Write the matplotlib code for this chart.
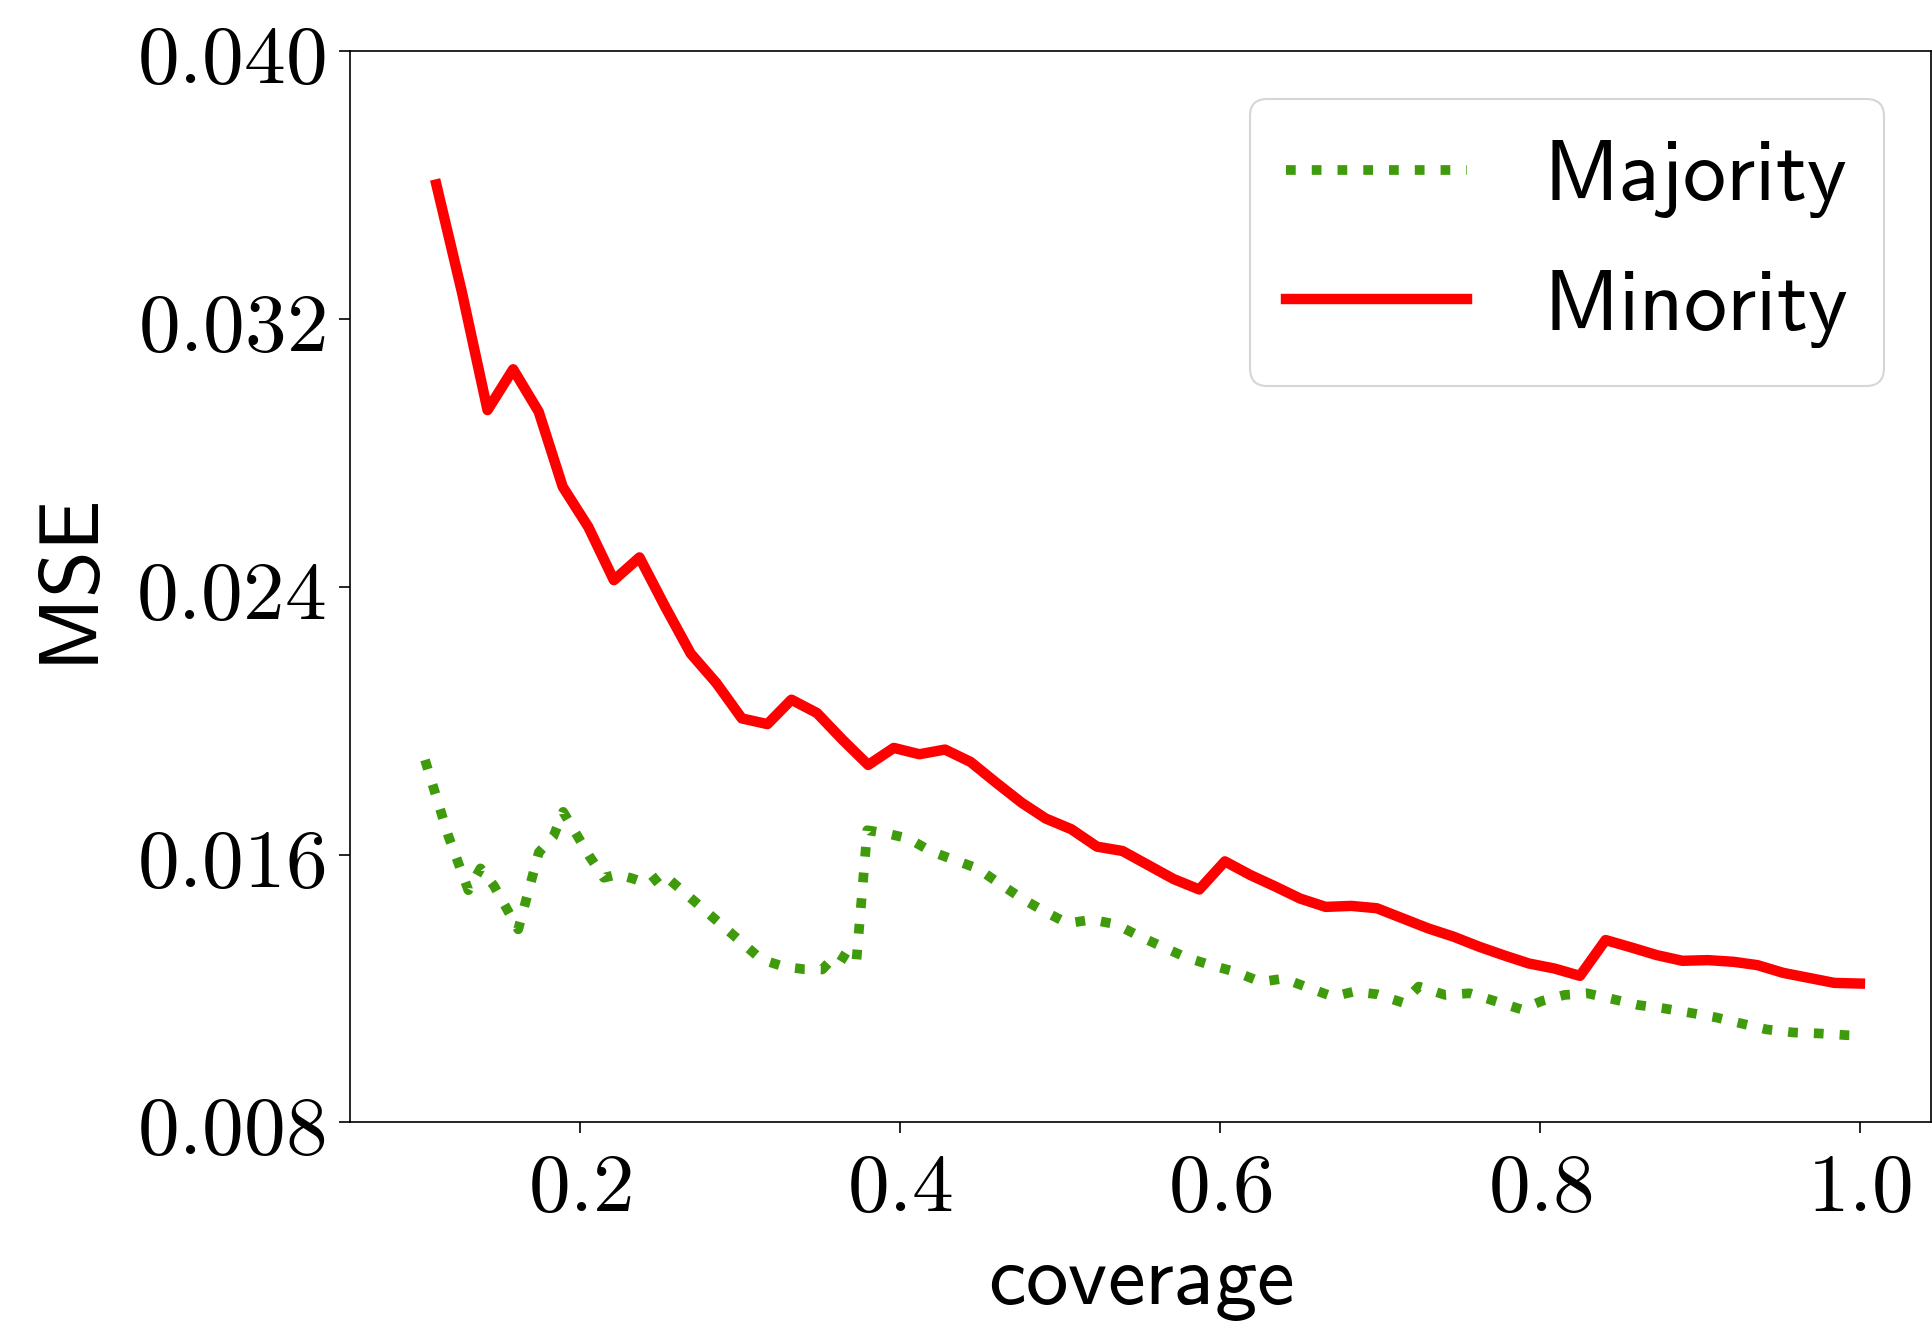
import matplotlib
matplotlib.use("Agg")
import matplotlib.pyplot as plt
from matplotlib.ticker import FuncFormatter

plt.rcParams['mathtext.fontset'] = 'cm'

# Minority group (regular coverage grid)
minority_cov = [0.110, 0.126, 0.142, 0.158, 0.174, 0.189, 0.205, 0.221, 0.237, 0.253,
                0.269, 0.285, 0.301, 0.317, 0.332, 0.348, 0.364, 0.380, 0.396, 0.412,
                0.428, 0.444, 0.460, 0.476, 0.491, 0.507, 0.523, 0.539, 0.555, 0.571,
                0.587, 0.603, 0.619, 0.634, 0.650, 0.666, 0.682, 0.698, 0.714, 0.730,
                0.746, 0.762, 0.777, 0.793, 0.809, 0.825, 0.841, 0.857, 0.873, 0.889,
                0.905, 0.921, 0.936, 0.952, 0.968, 0.984, 1.000]
minority_mse = [0.03602, 0.03280, 0.02928, 0.03050, 0.02923, 0.02699, 0.02579, 0.02420,
                0.02488, 0.02341, 0.02201, 0.02113, 0.02007, 0.01990, 0.02063, 0.02023,
                0.01943, 0.01868, 0.01919, 0.01900, 0.01914, 0.01877, 0.01815, 0.01755,
                0.01708, 0.01676, 0.01624, 0.01611, 0.01569, 0.01527, 0.01496, 0.01580,
                0.01539, 0.01506, 0.01469, 0.01444, 0.01447, 0.01440, 0.01410, 0.01380,
                0.01355, 0.01325, 0.01300, 0.01275, 0.01260, 0.01238, 0.01345, 0.01323,
                0.01300, 0.01283, 0.01285, 0.01280, 0.01270, 0.01247, 0.01232, 0.01217,
                0.01215]

# Majority group (coverage values are not evenly spaced)
majority_cov = [0.1029, 0.1175, 0.1300, 0.1376, 0.1460, 0.1612, 0.1741, 0.1831, 0.1893,
                0.2055, 0.2147, 0.2232, 0.2326, 0.2430, 0.2513, 0.3132, 0.3277, 0.3398,
                0.3513, 0.3606, 0.3724, 0.3794, 0.3912, 0.4053, 0.4192, 0.4339, 0.4484,
                0.4620, 0.4761, 0.4900, 0.5046, 0.5198, 0.5348, 0.5493, 0.5639, 0.5789,
                0.5941, 0.6097, 0.6253, 0.6399, 0.6549, 0.6705, 0.6836, 0.6982, 0.7142,
                0.7242, 0.7408, 0.7560, 0.7716, 0.7883, 0.8012, 0.8153, 0.8294, 0.8450,
                0.8612, 0.8772, 0.8935, 0.9099, 0.9257, 0.9417, 0.9580, 0.9746, 0.9911,
                1.0000]
majority_mse = [0.01883, 0.01656, 0.01494, 0.01559, 0.01507, 0.01377, 0.01607, 0.01654,
                0.01728, 0.01597, 0.01531, 0.01541, 0.01529, 0.01511, 0.01544, 0.01287,
                0.01265, 0.01258, 0.01257, 0.01305, 0.01270, 0.01673, 0.01664, 0.01648,
                0.01610, 0.01584, 0.01559, 0.01514, 0.01469, 0.01431, 0.01395, 0.01406,
                0.01392, 0.01357, 0.01325, 0.01293, 0.01270, 0.01250, 0.01220, 0.01230,
                0.01203, 0.01176, 0.01191, 0.01183, 0.01158, 0.01206, 0.01181, 0.01186,
                0.01163, 0.01138, 0.01163, 0.01181, 0.01186, 0.01169, 0.01151, 0.01141,
                0.01128, 0.01114, 0.01096, 0.01078, 0.01069, 0.01066, 0.01061, 0.01060]

y_ticks = [0.008, 0.016, 0.024, 0.032, 0.040]
x_ticks = [0.2, 0.4, 0.6, 0.8, 1.0]

fig = plt.figure(figsize=(19.33, 13.24), dpi=100)
ax = fig.add_axes([0.1813, 0.1522, 0.8177, 0.8091])

ax.plot(majority_cov, majority_mse, ':', color='#3f9b0b', lw=7, label=r'$\mathsf{Majority}$')
ax.plot(minority_cov, minority_mse, '-', color='#ff0000', lw=7.5, label=r'$\mathsf{Minority}$')

ax.set_ylim(0.008, 0.040)
ax.set_xlim(0.0563, 1.0445)
ax.set_yticks(y_ticks)
ax.set_xticks(x_ticks)
ax.yaxis.set_major_formatter(FuncFormatter(lambda v, p: r'$%.3f$' % v))
ax.xaxis.set_major_formatter(FuncFormatter(lambda v, p: r'$%.1f$' % v))
ax.tick_params(labelsize=60, length=8, width=1.2, pad=10)
for s in ax.spines.values():
    s.set_linewidth(1.2)

ax.set_xlabel(r'$\mathsf{coverage}$', fontsize=61, labelpad=8)
ax.set_ylabel(r'$\mathsf{MSE}$', fontsize=61, labelpad=14)

leg = ax.legend(fontsize=62, handlelength=2.1, handletextpad=0.88, loc='upper right',
                borderaxespad=0.55, borderpad=0.42, labelspacing=0.52)
leg.get_frame().set_linewidth(1.5)

fig.savefig('out.png', dpi=100)
